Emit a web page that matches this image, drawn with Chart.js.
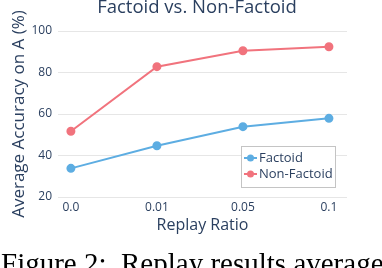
<!DOCTYPE html>
<html>
<head>
<meta charset="utf-8">
<script src="https://cdn.jsdelivr.net/npm/chart.js@4"></script>
<style>
  html, body { margin: 0; padding: 0; background: #fff; }
  #wrap { position: relative; width: 382px; height: 268px; overflow: hidden; }
</style>
</head>
<body>
<div id="wrap"><canvas id="replayChart" width="382" height="268"></canvas></div>
<script>
// data
const ratios = ['0.0', '0.01', '0.05', '0.1'];
const factoid = [33.8, 44.7, 53.9, 57.9];
const nonFactoid = [51.7, 82.8, 90.5, 92.4];
const yTicks = [20, 40, 60, 80, 100];

const textColor = '#2a3f5f';
const sansFont = "'Open Sans', 'DejaVu Sans', sans-serif";

// title above the plot and the paper caption below it
const decorPlugin = {
    id: 'decor',
    beforeDraw(chart) {
        const ctx = chart.ctx;
        ctx.save();
        ctx.fillStyle = '#fff';
        ctx.fillRect(0, 0, chart.width, chart.height);
        ctx.restore();
    },
    afterDraw(chart) {
        const ctx = chart.ctx;
        ctx.save();
        ctx.fillStyle = textColor;
        ctx.font = "18.5px " + sansFont;
        ctx.textAlign = 'center';
        ctx.textBaseline = 'alphabetic';
        ctx.fillText('Factoid vs. Non-Factoid', 197, 13);

        ctx.fillStyle = '#000';
        ctx.font = "29px 'Liberation Serif', 'Times New Roman', serif";
        ctx.textAlign = 'left';
        ctx.fillText('Figure 2:  Replay results average', 1, 273);
        ctx.restore();
    }
};

// boxed legend sitting inside the plot, lower right
const boxLegend = {
    id: 'boxLegend',
    afterDatasetsDraw(chart) {
        const ctx = chart.ctx;
        const x0 = 241, y0 = 146, w = 94, h = 41;
        ctx.save();
        ctx.fillStyle = '#fff';
        ctx.fillRect(x0, y0, w, h);
        ctx.strokeStyle = '#c4c4c4';
        ctx.lineWidth = 1;
        ctx.strokeRect(x0 + 0.5, y0 + 0.5, w, h);
        chart.data.datasets.forEach((ds, i) => {
            const cy = 158 + i * 16;
            ctx.strokeStyle = ds.borderColor;
            ctx.lineWidth = 2;
            ctx.beginPath();
            ctx.moveTo(244, cy);
            ctx.lineTo(257, cy);
            ctx.stroke();
            ctx.fillStyle = ds.borderColor;
            ctx.beginPath();
            ctx.arc(250.5, cy, 3.5, 0, Math.PI * 2);
            ctx.fill();
            ctx.fillStyle = textColor;
            ctx.font = "13px " + sansFont;
            ctx.textAlign = 'left';
            ctx.textBaseline = 'middle';
            ctx.fillText(ds.label, 259, cy);
        });
        ctx.restore();
    }
};

const ctx = document.getElementById('replayChart').getContext('2d');
new Chart(ctx, {
    type: 'line',
    data: {
        datasets: [
            {
                label: 'Factoid',
                data: factoid.map((v, i) => ({ x: i, y: v })),
                borderColor: '#5DADE2',
                backgroundColor: '#5DADE2',
                borderWidth: 2,
                pointRadius: 3.5,
                tension: 0
            },
            {
                label: 'Non-Factoid',
                data: nonFactoid.map((v, i) => ({ x: i, y: v })),
                borderColor: '#F1737D',
                backgroundColor: '#F1737D',
                borderWidth: 2,
                pointRadius: 3.5,
                tension: 0
            }
        ]
    },
    options: {
        responsive: false,
        animation: false,
        layout: { padding: { top: 31, right: 35, left: 0, bottom: 0 } },
        plugins: {
            legend: { display: false },
            title: { display: false },
            tooltip: { enabled: false }
        },
        scales: {
            x: {
                type: 'linear',
                min: -0.15,
                max: 3.21,
                afterFit: scale => { scale.height = 71; },
                afterBuildTicks: scale => {
                    scale.ticks = ratios.map((r, i) => ({ value: i }));
                },
                grid: { display: false, drawTicks: false },
                border: { display: false },
                ticks: {
                    padding: 3,
                    color: textColor,
                    font: { size: 12, family: sansFont },
                    callback: value => ratios[value]
                },
                title: {
                    display: true,
                    text: 'Replay Ratio',
                    color: textColor,
                    font: { size: 16, family: sansFont },
                    padding: { top: 0, bottom: 33 }
                }
            },
            y: {
                min: 20,
                max: 100,
                afterFit: scale => { scale.width = 58; },
                afterBuildTicks: scale => {
                    scale.ticks = yTicks.map(v => ({ value: v }));
                },
                grid: { color: '#e6e6e6', lineWidth: 1, drawTicks: false },
                border: { display: false },
                ticks: {
                    padding: 6,
                    color: textColor,
                    font: { size: 12, family: sansFont }
                },
                title: {
                    display: true,
                    text: 'Average Accuracy on A (%)',
                    color: textColor,
                    font: { size: 17, family: sansFont },
                    padding: { top: 9, bottom: 0 }
                }
            }
        }
    },
    plugins: [decorPlugin, boxLegend]
});
</script>
</body>
</html>
